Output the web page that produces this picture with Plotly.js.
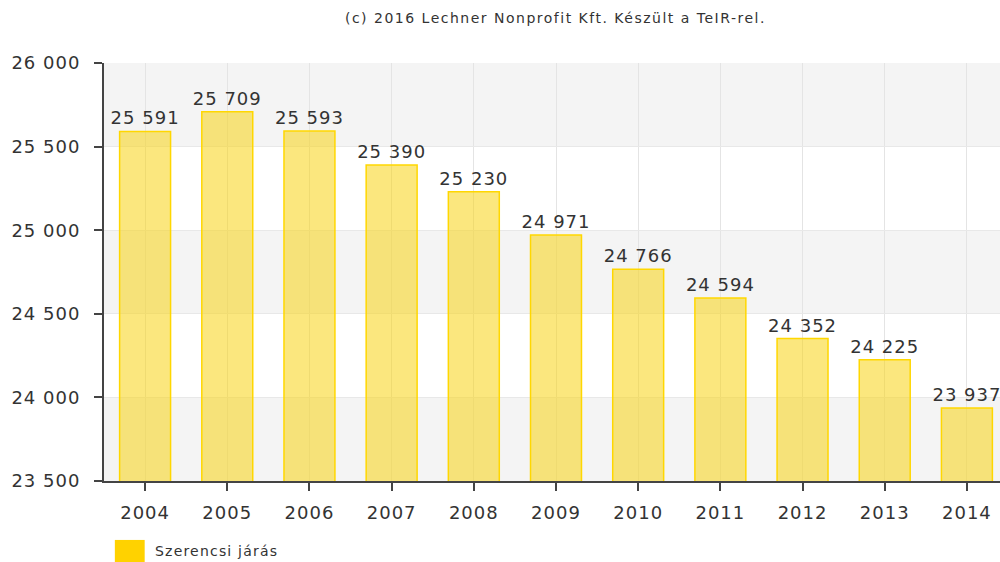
<!DOCTYPE html>
<html><head><meta charset="utf-8">
<script src="https://cdn.plot.ly/plotly-3.0.1.min.js"></script>
<style>
html,body{margin:0;padding:0;overflow:hidden;background:#fff}
#c{width:1008px;height:562px}
#c .xtick text, #c .ytick text, #c .bartext {letter-spacing:1px}
#c .gtitle {letter-spacing:1.5px}
#c .annotation-text {letter-spacing:1.2px}
</style>
</head><body><div id="c"></div>
<script>
const years = ['2004','2005','2006','2007','2008','2009','2010','2011','2012','2013','2014'];
const population = [25591, 25709, 25593, 25390, 25230, 24971, 24766, 24594, 24352, 24225, 23937];
const seriesName = 'Szerencsi járás';
const titleText = '(c) 2016 Lechner Nonprofit Kft. Készült a TeIR-rel.';
const yTicks = [23500, 24000, 24500, 25000, 25500, 26000];

const font = 'DejaVu Sans, Verdana, sans-serif';
const shapes = [];
for (let i = 0; i < yTicks.length - 1; i++) {
  if (i % 2 === 0) {
    shapes.push({type:'rect', xref:'paper', yref:'y', x0:0, x1:1, y0:yTicks[i], y1:yTicks[i+1],
      fillcolor:'#f4f4f4', line:{width:0}, layer:'below'});
  }
}
// legend swatch
shapes.push({type:'rect', xref:'paper', yref:'paper', x0:0.012, x1:0.045, y0:-0.196, y1:-0.141,
  fillcolor:'#ffd200', line:{width:0}});

const trace = {
  type:'bar', x: years, y: population, name: seriesName,
  marker:{color:'rgba(248,212,20,0.55)', line:{color:'#ffd700', width:1.5}},
  width:0.62,
  text: population, texttemplate:'%{y:,}', textposition:'outside', constraintext:'none',
  textfont:{family:font, size:18, color:'#333'}, cliponaxis:false,
  hoverinfo:'x+y', showlegend:false
};

const layout = {
  width:1008, height:562,
  margin:{l:104, r:0, t:63, b:81},
  separators:', ',
  paper_bgcolor:'#fff', plot_bgcolor:'#fff',
  title:{text:titleText, font:{family:font, size:14, color:'#333'}, x:0.551, xanchor:'center', y:0.968, yanchor:'middle'},
  xaxis:{type:'category', showgrid:true, gridcolor:'#e4e4e4', gridwidth:1,
    showline:true, linecolor:'#444', linewidth:2, ticks:'outside', ticklen:8, tickcolor:'#444', tickwidth:2,
    ticklabelstandoff:6,
    tickfont:{family:font, size:18, color:'#333'}, range:[-0.5,10.5]},
  yaxis:{range:[23500,26000], tickvals:yTicks, tickformat:',', showgrid:true, gridcolor:'#e8e8e8',
    showline:true, linecolor:'#444', linewidth:2, ticks:'outside', ticklen:8, tickcolor:'#444', tickwidth:2,
    ticklabelstandoff:10,
    tickfont:{family:font, size:18, color:'#333'}, zeroline:false},
  shapes: shapes,
  annotations:[{xref:'paper', yref:'paper', x:0.054, y:-0.167, xanchor:'left', yanchor:'middle', align:'left',
    text:seriesName, showarrow:false, font:{family:font, size:14, color:'#333'}}],
  bargap:0.38, showlegend:false
};
Plotly.newPlot('c', [trace], layout, {displayModeBar:false, staticPlot:true});
</script></body></html>
